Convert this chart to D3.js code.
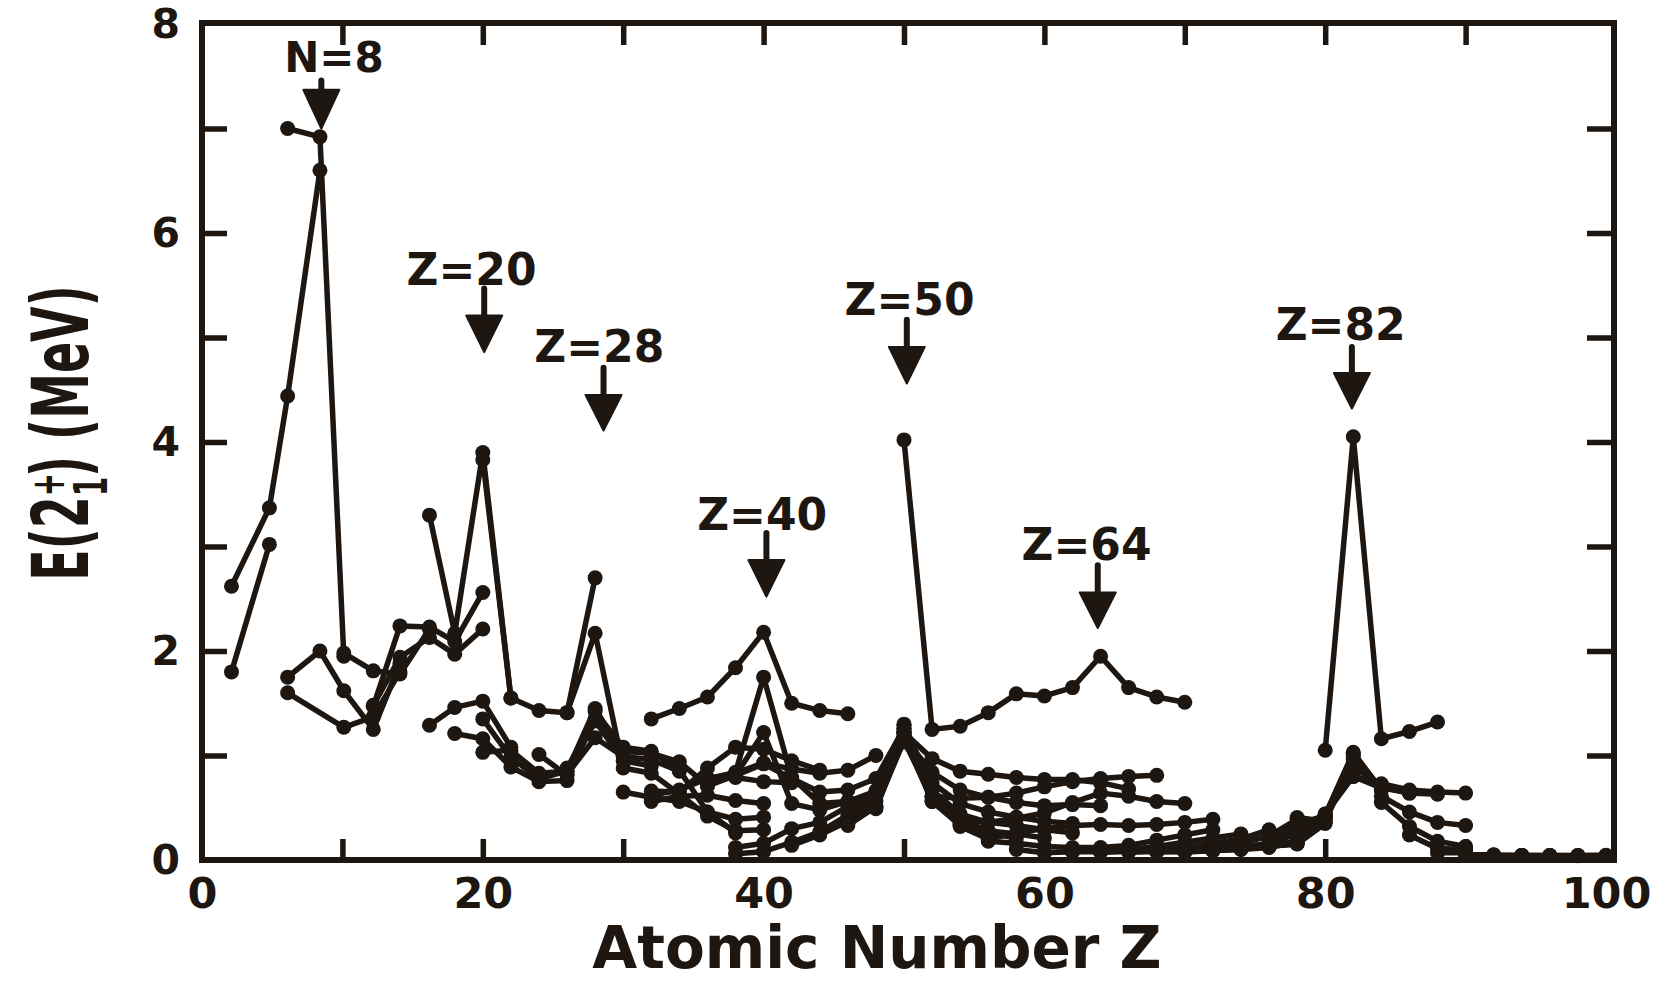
<!DOCTYPE html>
<html><head><meta charset="utf-8">
<script src="https://cdn.jsdelivr.net/npm/d3@7"></script>
<style>
body{margin:0;background:#fff}
svg{display:block}
text{font-family:"DejaVu Sans",sans-serif;font-weight:bold;fill:#1d1611}
</style>
</head><body>
<svg id="c" width="1672" height="983"></svg>
<script>
// ---------- DATA: E(2+1) in MeV, per element, as [neutron number N, energy] ----------
// (points of equal N are joined by lines, as in the reference)
const He = [[4,1.80],[6,2.62]];
const Be = [[4,3.02],[6,3.37]];
const C  = [[6,4.44],[8,7.00],[10,1.75],[12,1.60]];
const O  = [[6,6.60],[8,6.92],[10,2.00]];
const Ne = [[8,1.95],[10,1.62],[12,1.27],[14,1.98]];
const Mg = [[10,1.25],[12,1.37],[14,1.81],[16,1.47],[18,1.48]];
const Si = [[10,1.88],[12,1.80],[14,1.78],[16,2.24],[18,1.94]];
const S  = [[14,2.21],[16,2.23],[18,2.13],[20,3.30],[22,1.29]];
const Ar = [[16,2.09],[18,1.97],[20,2.17],[22,1.46],[24,1.21]];
const Ca = [[16,2.56],[18,2.21],[20,3.90],[22,1.52],[24,1.16],[26,1.35],[28,3.83],[30,1.03]];
const Ti = [[20,1.55],[22,1.08],[24,0.89],[26,0.98],[28,1.55],[30,1.05]];
const Cr = [[24,0.75],[26,0.78],[28,1.43],[30,0.83],[32,1.01]];
const Fe = [[24,0.76],[26,0.85],[28,1.41],[30,0.85],[32,0.81],[34,0.82],[36,0.88],[40,1.41]];
const Ni = [[28,2.70],[30,1.45],[32,1.33],[34,1.17],[36,1.35],[38,1.42],[40,2.17]];
const Zn = [[30,1.00],[32,0.95],[34,0.99],[36,1.04],[38,1.08],[40,0.88],[42,0.65]];
const Ge = [[32,0.90],[34,0.96],[36,1.02],[38,1.04],[40,0.83],[42,0.60],[44,0.56],[46,0.62],[48,0.66],[50,1.35]];
const Se = [[34,0.85],[36,0.94],[38,0.86],[40,0.63],[42,0.56],[44,0.61],[46,0.67],[48,0.65],[50,1.45]];
const Kr = [[36,0.71],[38,0.46],[40,0.42],[42,0.46],[44,0.62],[46,0.78],[48,0.88],[50,1.56],[52,0.78],[54,0.71],[56,0.77]];
const Sr = [[38,0.26],[40,0.28],[42,0.39],[44,0.57],[46,0.79],[48,1.08],[50,1.84],[52,0.83],[54,0.81],[56,0.84],[58,0.81],[60,0.12],[62,0.06]];
const Zr = [[40,0.29],[42,0.41],[44,0.54],[46,0.75],[48,1.06],[50,2.18],[52,0.93],[54,0.92],[56,1.75],[58,1.22],[60,0.16],[62,0.08]];
const Mo = [[46,0.74],[48,0.95],[50,1.50],[52,0.87],[54,0.78],[56,0.79],[58,0.54],[60,0.30],[62,0.17],[64,0.14]];
const Ru = [[48,0.86],[50,1.43],[52,0.83],[54,0.65],[56,0.54],[58,0.48],[60,0.36],[62,0.27],[64,0.24]];
const Pd = [[50,1.40],[52,0.86],[54,0.67],[56,0.56],[58,0.56],[60,0.51],[62,0.43],[64,0.37],[66,0.35],[68,0.33]];
const Cd = [[52,1.00],[54,0.78],[56,0.66],[58,0.63],[60,0.63],[62,0.66],[64,0.62],[66,0.56],[68,0.51],[70,0.49],[72,0.51]];
const Sn = [[54,1.26],[56,1.21],[58,1.21],[60,1.21],[62,1.26],[64,1.30],[66,1.29],[68,1.23],[70,1.17],[72,1.14],[74,1.13],[76,1.14],[78,1.17],[80,1.22],[82,4.02]];
const Te = [[62,0.71],[64,0.68],[66,0.61],[68,0.56],[70,0.56],[72,0.60],[74,0.67],[76,0.74],[78,0.84],[80,0.97],[82,1.25],[84,0.61]];
const Xe = [[64,0.34],[66,0.32],[68,0.33],[70,0.35],[72,0.39],[74,0.44],[76,0.54],[78,0.67],[80,0.85],[82,1.28],[84,0.59],[86,0.38]];
const Ba = [[66,0.20],[68,0.23],[70,0.26],[72,0.28],[74,0.36],[76,0.46],[78,0.60],[80,0.82],[82,1.41],[84,0.60],[86,0.36],[88,0.20],[90,0.18]];
const Ce = [[70,0.21],[72,0.25],[74,0.33],[76,0.41],[78,0.55],[80,0.79],[82,1.59],[84,0.64],[86,0.40],[88,0.26],[90,0.16],[92,0.10]];
const Nd = [[72,0.21],[74,0.29],[76,0.37],[78,0.52],[80,0.77],[82,1.57],[84,0.70],[86,0.45],[88,0.30],[90,0.13],[92,0.07]];
const Sm = [[74,0.26],[76,0.35],[78,0.53],[80,0.77],[82,1.65],[84,0.75],[86,0.55],[88,0.33],[90,0.12],[92,0.08],[94,0.08]];
const Gd = [[78,0.52],[80,0.74],[82,1.95],[84,0.78],[86,0.64],[88,0.34],[90,0.12],[92,0.09],[94,0.08],[96,0.075]];
const Dy = [[80,0.68],[82,1.65],[84,0.80],[86,0.61],[88,0.33],[90,0.14],[92,0.10],[94,0.087],[96,0.081],[98,0.073]];
const Er = [[82,1.56],[84,0.81],[86,0.56],[88,0.34],[90,0.19],[92,0.13],[94,0.10],[96,0.091],[98,0.081],[100,0.080],[102,0.079]];
const Yb = [[82,1.51],[86,0.54],[88,0.36],[90,0.24],[92,0.17],[94,0.12],[96,0.10],[98,0.088],[100,0.084],[102,0.079],[104,0.076],[106,0.082]];
const Hf = [[88,0.39],[90,0.29],[92,0.21],[94,0.16],[96,0.12],[98,0.10],[100,0.095],[102,0.091],[104,0.088],[106,0.093],[108,0.093],[110,0.098]];
const W  = [[92,0.25],[94,0.20],[96,0.16],[98,0.12],[100,0.11],[102,0.11],[104,0.106],[106,0.104],[108,0.100],[110,0.111],[112,0.122]];
const Os = [[94,0.29],[96,0.23],[98,0.16],[100,0.135],[102,0.132],[104,0.132],[106,0.127],[108,0.120],[110,0.137],[112,0.155],[114,0.187],[116,0.206]];
const Pt = [[96,0.39],[98,0.26],[100,0.17],[102,0.153],[104,0.155],[106,0.163],[108,0.191],[110,0.266],[112,0.296],[114,0.317],[116,0.328],[118,0.356],[120,0.407]];
const Hg = [[100,0.43],[102,0.35],[104,0.37],[106,0.41],[108,0.41],[110,0.42],[112,0.42],[114,0.43],[116,0.43],[118,0.41],[120,0.37],[122,0.44],[124,0.44],[126,1.05]];
const Pb = [[110,0.85],[112,0.97],[114,1.02],[116,1.03],[118,1.00],[120,0.96],[122,0.90],[124,0.80],[126,4.05],[128,0.80]];
const Po = [[116,0.67],[118,0.68],[120,0.68],[122,0.70],[124,0.69],[126,1.16],[128,0.73],[130,0.61],[132,0.55]];
const Rn = [[122,0.64],[124,0.64],[126,1.23],[128,0.67],[130,0.46],[132,0.32],[134,0.24]];
const Ra = [[124,0.63],[126,1.32],[128,0.65],[130,0.36],[132,0.18],[134,0.11],[136,0.07]];
const Th = [[128,0.64],[130,0.33],[132,0.13],[134,0.10],[136,0.07],[138,0.05],[140,0.05],[142,0.05]];
const U  = [[138,0.05],[140,0.045],[142,0.045],[144,0.045],[146,0.045]];
const Pu = [[144,0.044],[146,0.044],[148,0.044],[150,0.044]];
const Cm = [[148,0.043],[150,0.043],[152,0.042]];
const Cf = [[150,0.042],[152,0.041],[154,0.043]];
const Fm = [[152,0.044],[154,0.045]];

// atomic number at which each element is plotted
const elementZ = [2.1,4.8,6.1,8.4,10.1,12.2,14.1,16.2,18,20,22,24,26,28,30,32,34,36,38,40,42,44,46,48,50,52,54,56,58,60,62,64,66,68,70,72,74,76,78,80,82,84,86,88,90,92,94,96,98,100];
const elementData = [He,Be,C,O,Ne,Mg,Si,S,Ar,Ca,Ti,Cr,Fe,Ni,Zn,Ge,Se,Kr,Sr,Zr,Mo,Ru,Pd,Cd,Sn,Te,Xe,Ba,Ce,Nd,Sm,Gd,Dy,Er,Yb,Hf,W,Os,Pt,Hg,Pb,Po,Rn,Ra,Th,U,Pu,Cm,Cf,Fm];

// axis ticks / labels
const xLabelTicks = [0,20,40,60,80,100];
const xMinorTicks = [10,20,30,40,50,60,70,80,90];
const yLabelTicks = [0,2,4,6,8];
const yMinorTicks = [1,2,3,4,5,6,7];

// magic-number annotations: label, label centre Z, label baseline E, arrow Z, arrow top, head top, tip
const annLabels   = ["N=8","Z=20","Z=28","Z=40","Z=50","Z=64","Z=82"];
const annLabelZ   = [9.4, 19.2, 28.3, 39.9, 50.4, 63.0, 81.1];
const annLabelE   = [7.54, 5.50, 4.77, 3.16, 5.22, 2.87, 4.98];
const annArrowZ   = [8.5, 20.1, 28.6, 40.2, 50.2, 63.8, 81.9];
const annArrowTop = [7.46, 5.47, 4.71, 3.13, 5.17, 2.82, 4.91];
const annHeadTop  = [7.37, 5.21, 4.45, 2.87, 4.91, 2.56, 4.66];
const annTip      = [7.00, 4.86, 4.11, 2.52, 4.56, 2.22, 4.32];

// ---------- DRAWING ----------
const ink = '#1d1611';
const svg = d3.select('#c');
const x = d3.scaleLinear().domain([0,100]).range([202,1606]);
const y = d3.scaleLinear().domain([0,8]).range([860,24]);
const frameL = 202, frameR = 1614, frameT = 23, frameB = 860;

// build isotone chains
const byN = new Map();
elementData.forEach((iso,i)=>{
  iso.forEach(([n,e])=>{
    if(!byN.has(n)) byN.set(n,[]);
    byN.get(n).push({z:elementZ[i], e:e});
  });
});
const chains = Array.from(byN.values()).map(a=>a.sort((p,q)=>p.z-q.z));

const gData = svg.append('g');
const line = d3.line().x(d=>x(d.z)).y(d=>y(d.e));
gData.selectAll('path.chain').data(chains.filter(c=>c.length>1)).join('path')
  .attr('class','chain').attr('d',line)
  .attr('fill','none').attr('stroke',ink).attr('stroke-width',5.5)
  .attr('stroke-linejoin','round').attr('stroke-linecap','round');
const pts = chains.flat();
gData.selectAll('circle').data(pts).join('circle')
  .attr('cx',d=>x(d.z)).attr('cy',d=>y(d.e)).attr('r',7.5).attr('fill',ink);

// frame
svg.append('rect').attr('x',frameL).attr('y',frameT)
  .attr('width',frameR-frameL).attr('height',frameB-frameT)
  .attr('fill','none').attr('stroke',ink).attr('stroke-width',6);

function styleTicks(g){
  g.select('.domain').remove();
  g.selectAll('.tick line').attr('stroke',ink).attr('stroke-width',5.5);
}
// inward ticks
svg.append('g').attr('transform',`translate(0,${frameB})`)
  .call(d3.axisBottom(x).tickValues(xMinorTicks).tickSizeInner(-21).tickSizeOuter(0).tickFormat(''))
  .call(styleTicks);
svg.append('g').attr('transform',`translate(0,${frameT})`)
  .call(d3.axisTop(x).tickValues(xMinorTicks).tickSizeInner(-22).tickSizeOuter(0).tickFormat(''))
  .call(styleTicks);
svg.append('g').attr('transform',`translate(${frameL},0)`)
  .call(d3.axisLeft(y).tickValues(yMinorTicks).tickSizeInner(-25).tickSizeOuter(0).tickFormat(''))
  .call(styleTicks);
svg.append('g').attr('transform',`translate(${frameR},0)`)
  .call(d3.axisRight(y).tickValues(yMinorTicks).tickSizeInner(-27).tickSizeOuter(0).tickFormat(''))
  .call(styleTicks);

// tick labels
const gxl = svg.append('g').attr('transform',`translate(0,${frameB})`)
  .call(d3.axisBottom(x).tickValues(xLabelTicks).tickSize(0).tickPadding(17).tickFormat(d3.format('d')));
gxl.select('.domain').remove();
gxl.selectAll('text').attr('font-size',43).attr('fill',ink).style('font-family','"DejaVu Sans",sans-serif').style('font-weight','bold');
const gyl = svg.append('g').attr('transform',`translate(${frameL},0)`)
  .call(d3.axisLeft(y).tickValues(yLabelTicks).tickSize(0).tickPadding(22).tickFormat(d3.format('d')));
gyl.select('.domain').remove();
gyl.selectAll('text').attr('font-size',41).attr('fill',ink).style('font-family','"DejaVu Sans",sans-serif').style('font-weight','bold');

// axis titles
svg.append('text').attr('x',877).attr('y',968).attr('text-anchor','middle')
  .attr('font-size',58).text('Atomic Number Z');
const yt = svg.append('text').attr('text-anchor','middle').attr('font-size',46)
  .attr('transform','translate(60,433) rotate(-90) scale(1,1.7)').attr('y',16.5);
yt.append('tspan').text('E(2');
yt.append('tspan').attr('font-size',27.6).attr('dy',-14).text('+');
yt.append('tspan').attr('font-size',27.6).attr('dx',-23).attr('dy',25).text('1');
yt.append('tspan').attr('dy',-11).text(') (MeV)');

// annotations
const gA = svg.append('g');
annLabels.forEach((lab,i)=>{
  gA.append('text').attr('x',x(annLabelZ[i])).attr('y',y(annLabelE[i]))
    .attr('text-anchor','middle').attr('font-size',i===0?42:44).text(lab);
  const ax = x(annArrowZ[i]);
  gA.append('line').attr('x1',ax).attr('x2',ax)
    .attr('y1',y(annArrowTop[i])).attr('y2',y(annHeadTop[i])+2)
    .attr('stroke',ink).attr('stroke-width',6).attr('stroke-linecap','round');
  const ht = y(annHeadTop[i]), tp = y(annTip[i]);
  gA.append('path').attr('d',`M${ax-18},${ht}L${ax+18},${ht}L${ax},${tp}Z`)
    .attr('fill',ink).attr('stroke',ink).attr('stroke-width',2).attr('stroke-linejoin','round');
});
</script>
</body></html>
